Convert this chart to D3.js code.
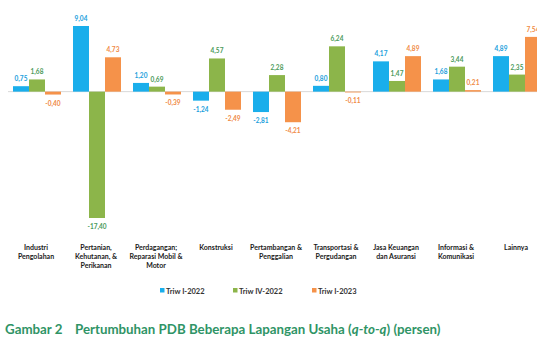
<!DOCTYPE html>
<html><head><meta charset="utf-8">
<script src="https://cdn.jsdelivr.net/npm/d3@7"></script>
<style>body{margin:0;background:#fff;}svg{display:block;}</style>
</head><body>
<svg id="c" width="537" height="360"></svg>
<script>
const categories = [
  ["Industri","Pengolahan"],
  ["Pertanian,","Kehutanan, &","Perikanan"],
  ["Perdagangan;","Reparasi Mobil &","Motor"],
  ["Konstruksi"],
  ["Pertambangan &","Penggalian"],
  ["Transportasi &","Pergudangan"],
  ["Jasa Keuangan","dan Asuransi"],
  ["Informasi &","Komunikasi"],
  ["Lainnya"]
];
const seriesNames = ["Triw I-2022","Triw IV-2022","Triw I-2023"];
const triwI2022 = [0.75, 9.04, 1.20, -1.24, -2.81, 0.80, 4.17, 1.68, 4.89];
const triwIV2022 = [1.68, -17.40, 0.69, 4.57, 2.28, 6.24, 1.47, 3.44, 2.35];
const triwI2023 = [-0.40, 4.73, -0.39, -2.49, -4.21, -0.11, 4.89, 0.21, 7.54];
const series = [triwI2022, triwIV2022, triwI2023];
const colors = ["#1aaeeb","#8cb54a","#f5924a"];
const labelColors = ["#1aa0dc","#4a9a5a","#f08a45"];

const svg = d3.select("#c");
const font = "Lato, 'Open Sans', sans-serif";

const x0 = d3.scaleBand().domain(d3.range(categories.length)).range([7, 547]).paddingInner(0.2).paddingOuter(0.1);
const x1 = d3.scaleBand().domain(d3.range(3)).range([0, x0.bandwidth()]);
const y = d3.scaleLinear().domain([-17.40, 9.04]).range([218, 26]);

// baseline
svg.append("line").attr("x1", 8).attr("x2", 537).attr("y1", y(0)).attr("y2", y(0))
  .attr("stroke", "#d8d8d8").attr("stroke-width", 1);

const fmt = v => v.toFixed(2).replace(".", ",");

series.forEach((vals, si) => {
  const g = svg.append("g");
  g.selectAll("rect").data(vals).join("rect")
    .attr("x", (d, i) => x0(i) + x1(si))
    .attr("width", x1.bandwidth())
    .attr("y", d => y(Math.max(0, d)))
    .attr("height", d => Math.abs(y(d) - y(0)))
    .attr("fill", colors[si]);
  g.selectAll("text").data(vals).join("text")
    .attr("x", (d, i) => x0(i) + x1(si) + x1.bandwidth() / 2)
    .attr("y", d => d >= 0 ? y(d) - 5 : y(d) + 11)
    .attr("text-anchor", "middle")
    .attr("font-family", font).attr("font-weight", "bold").attr("font-size", 6.5)
    .attr("fill", labelColors[si])
    .text(d => fmt(d));
});

// category labels
categories.forEach((lines, i) => {
  const cx = x0(i) + x0.bandwidth() / 2 - 1;
  const t = svg.append("text")
    .attr("x", cx)
    .attr("y", 250)
    .attr("text-anchor", "middle")
    .attr("font-family", font).attr("font-weight", "bold").attr("font-size", 7)
    .attr("fill", "#1a1a1a");
  lines.forEach((l, j) => t.append("tspan").attr("x", cx).attr("dy", j === 0 ? 0 : 9).text(l));
});

// legend
const legX = [160, 233, 312];
seriesNames.forEach((n, i) => {
  svg.append("rect").attr("x", legX[i]).attr("y", 288).attr("width", 4.5).attr("height", 4.5).attr("fill", colors[i]);
  svg.append("text").attr("x", legX[i] + 6).attr("y", 293.5)
    .attr("font-family", font).attr("font-weight", "bold").attr("font-size", 7.5)
    .attr("fill", "#333").text(n);
});

// title
const title = svg.append("text").attr("x", 5).attr("y", 334)
  .attr("font-family", font).attr("font-weight", "bold").attr("font-size", 13.3)
  .attr("fill", "#2f9466");
title.append("tspan").text("Gambar 2");
title.append("tspan").attr("x", 75).text("Pertumbuhan PDB Beberapa Lapangan Usaha (");
title.append("tspan").attr("font-style", "italic").text("q-to-q");
title.append("tspan").text(") (persen)");
</script>
</body></html>
